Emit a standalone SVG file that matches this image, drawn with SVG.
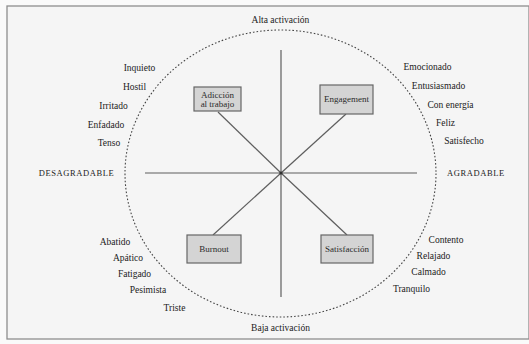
<svg xmlns="http://www.w3.org/2000/svg" width="529" height="344" viewBox="0 0 529 344">
  <defs>
    <style>
      .lbl { font-family: "Liberation Serif", "Times New Roman", serif; font-size: 9.5px; fill: #222; text-anchor: middle; }
      .axis { font-family: "Liberation Serif", "Times New Roman", serif; font-size: 8.5px; fill: #222; text-anchor: middle; letter-spacing: 0.6px; }
      .box { fill: #d4d4d4; stroke: #666; stroke-width: 1.2; }
      .boxtxt { font-family: "Liberation Serif", "Times New Roman", serif; font-size: 9px; fill: #2b2b2b; text-anchor: middle; }
      .conn { stroke: #5e5e5e; stroke-width: 1.2; fill: none; }
    </style>
  </defs>

  <rect x="0" y="0" width="529" height="344" fill="#fafafa"/>
  <rect x="7" y="6" width="522" height="333" fill="#f5f5f5" stroke="#8e8e8e" stroke-width="1.3"/>

  <!-- dashed activation ellipse -->
  <ellipse cx="280.5" cy="173.5" rx="155.5" ry="143.5" fill="none" stroke="#444" stroke-width="1.1" stroke-dasharray="1.6 2"/>

  <!-- connectors / axes -->
  <g id="connectors">
    <line class="conn" x1="281" y1="50" x2="281" y2="297"/>
    <line class="conn" x1="145" y1="173" x2="417" y2="173"/>
    <line class="conn" x1="218" y1="112" x2="281" y2="173"/>
    <line class="conn" x1="346" y1="114" x2="281" y2="173"/>
    <line class="conn" x1="213" y1="235" x2="281" y2="173"/>
    <line class="conn" x1="347" y1="235" x2="281" y2="173"/>
    <circle cx="281" cy="173" r="1.6" fill="#333"/>
  </g>

  <!-- nodes -->
  <g id="adiccion">
    <rect class="box" x="194" y="87" width="47" height="24"/>
    <text class="boxtxt" x="217.5" y="97.5">Adicción</text>
    <text class="boxtxt" x="217.5" y="107">al trabajo</text>
  </g>
  <g id="engagement">
    <rect class="box" x="320" y="85" width="53" height="29"/>
    <text class="boxtxt" x="346.5" y="102">Engagement</text>
  </g>
  <g id="burnout">
    <rect class="box" x="187" y="235" width="54" height="28"/>
    <text class="boxtxt" x="214" y="252">Burnout</text>
  </g>
  <g id="satisfaccion">
    <rect class="box" x="321" y="235" width="52" height="28"/>
    <text class="boxtxt" x="347" y="252">Satisfacción</text>
  </g>

  <!-- axis labels -->
  <g id="axis-labels">
    <text class="lbl" x="280.5" y="23">Alta activación</text>
    <text class="lbl" x="280.5" y="331">Baja activación</text>
    <text class="axis" x="76.5" y="176">DESAGRADABLE</text>
    <text class="axis" x="476" y="176">AGRADABLE</text>
  </g>

  <!-- emotion labels -->
  <g id="labels-ul">
    <text class="lbl" x="139.5" y="71">Inquieto</text>
    <text class="lbl" x="134.5" y="90">Hostil</text>
    <text class="lbl" x="113.5" y="109">Irritado</text>
    <text class="lbl" x="106" y="128">Enfadado</text>
    <text class="lbl" x="109" y="146">Tenso</text>
  </g>
  <g id="labels-ur">
    <text class="lbl" x="427.5" y="70">Emocionado</text>
    <text class="lbl" x="438.5" y="89">Entusiasmado</text>
    <text class="lbl" x="450.5" y="108">Con energía</text>
    <text class="lbl" x="445.5" y="126">Feliz</text>
    <text class="lbl" x="464" y="144">Satisfecho</text>
  </g>
  <g id="labels-ll">
    <text class="lbl" x="115" y="245">Abatido</text>
    <text class="lbl" x="128" y="261">Apático</text>
    <text class="lbl" x="134.5" y="277">Fatigado</text>
    <text class="lbl" x="148" y="293">Pesimista</text>
    <text class="lbl" x="174.5" y="311">Triste</text>
  </g>
  <g id="labels-lr">
    <text class="lbl" x="446" y="243">Contento</text>
    <text class="lbl" x="433.5" y="259">Relajado</text>
    <text class="lbl" x="428.5" y="275">Calmado</text>
    <text class="lbl" x="411.5" y="292">Tranquilo</text>
  </g>
</svg>
